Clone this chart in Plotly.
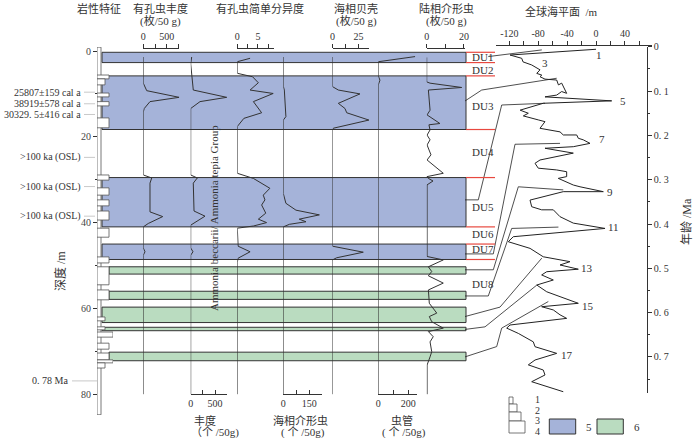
import plotly.graph_objects as go

W, H = 700, 438
FONT = 'Liberation Serif, Noto Sans CJK SC, serif'
INK = '#333333'
BLUE = '#a5b3d9'
GREEN = '#badcc0'
RED = '#e8483f'

# ---------------- data ----------------
# lithology: grain-size class (1-4) by depth interval (m)
lith_top = [-0.9, 5.6, 6.5, 9.8, 11.8, 15.6, 28.9, 31.9, 34.7, 37.3, 41.3, 48.0, 50.3, 55.7,
            62.0, 64.3, 65.5, 68.1, 70.4, 72.0, 72.7]
lith_bottom = [84.8, 6.5, 7.9, 10.7, 12.8, 17.9, 30.1, 33.6, 36.1, 39.4, 43.4, 49.4, 54.5, 58.0,
               62.9, 65.0, 66.7, 69.5, 72.0, 72.7, 73.9]
lith_class = [1, 3, 2, 3, 3, 3, 3, 3, 3, 3, 3, 3, 3, 3, 2, 2, 4, 3, 3, 4, 2]

# marine (5) / non-marine (6) intervals
band_top = [0.3, 5.8, 29.5, 45.0, 50.3, 56.0, 59.7, 64.4, 70.2]
band_bottom = [2.7, 18.3, 41.0, 48.6, 52.0, 57.9, 63.3, 65.2, 72.2]
band_kind = [5, 5, 5, 5, 6, 6, 6, 6, 6]

du_names = ['DU1', 'DU2', 'DU3', 'DU4', 'DU5', 'DU6', 'DU7', 'DU8']
du_label_depth = [1.3, 4.4, 12.75, 23.6, 36.3, 42.7, 46.2, 54.2]
du_boundary_depth = [0.3, 2.7, 5.8, 18.3, 29.5, 41.0, 45.0, 48.6]

# dating
date_labels = ['25807±159 cal a', '38919±578 cal a', '30329. 5±416 cal a',
               '>100 ka (OSL)', '>100 ka (OSL)', '>100 ka (OSL)', '0. 78 Ma']
date_depth = [9.6, 12.3, 14.8, 24.8, 31.6, 38.5, 76.9]

# foraminifera abundance (枚/50 g)
foram_depth = [1.4, 7.5, 9.25, 10.8, 11.8, 13.4, 14.2, 28.9, 29.6, 30.8, 37.5, 38.6, 40.2, 41.0,
               45.9, 46.8, 47.6, 80]
foram_abund = [0, 0, 73, 765, 143, 21, 0, 0, 180, 143, 143, 415, 107, 0, 0, 36, 0, 0]

# Ammonia abundance (个/50g)
ammonia_depth = [1.4, 3.0, 9.1, 10.8, 11.8, 13.4, 28.9, 29.6, 30.8, 37.3, 38.5, 40.6, 45.9, 46.8,
                 47.6, 80]
ammonia_abund = [20, 0, 53, 738, 191, 0, 0, 135, 53, 68, 293, 0, 0, 47, 0, 0]

# foraminifera simple diversity
div_depth = [1.7, 2.5, 5.2, 6.0, 7.4, 9.1, 9.9, 11.8, 14.4, 15.7, 17.6, 28.5, 29.7, 32.0, 33.6,
             34.7, 35.9, 37.8, 39.2, 40.0, 40.8, 41.3, 45.5, 46.8, 48.3, 49.2, 80]
div_value = [3.1, 0, 0, 3.7, 5.1, 3.1, 8.7, 3.9, 5.9, 1.6, 0, 0, 3.9, 7.9, 6.3,
             6.7, 5.9, 6.9, 5.1, 7.1, 3.9, 0, 0.2, 3.1, 0.2, 0, 0]

# marine ostracods (个/50g)
mostr_depth = [1.4, 8.2, 9.1, 15.3, 16.1, 33.2, 35.5, 37.1, 38.2, 39.2, 39.8, 40.4, 41.0, 80]
mostr_value = [0, 0, 6, 15, 0, 0, 15, 73, 208, 92, 131, 35, 0, 0]

# marine shells (枚/50 g)
shell_depth = [1.4, 8.3, 9.1, 10.0, 12.2, 13.4, 14.4, 16.1, 18.0, 18.4, 45.5, 46.9, 48.2, 48.7, 80]
shell_value = [0, 0, 5.6, 26.4, 5.6, 12, 13.7, 35, 0.8, 0, 0, 29.6, 4, 0, 0]

# worm tubes (个/50g)
tube_depth = [1.3, 2.5, 5.8, 6.8, 7.9, 80]
tube_value = [245, 0, 0, 11, 0, 0]

# terrestrial ostracods (枚/50 g)
tostr_depth = [1.5, 7.2, 7.5, 8.5, 9.1, 13.8, 14.9, 16.9, 17.2, 18.4, 19.6, 20.7, 21.9, 24.2,
               25.4, 28.5, 29.3, 29.7, 30.3, 31.2, 47.9, 48.7, 50.3, 51.4, 52.4, 54.1, 55.7,
               58.8, 61.1, 61.9, 63.1, 64.6, 65.4, 66.6, 67.8, 70.1, 71.3, 73.2, 80]
tostr_value = [0, 0, 1.8, 18.8, 0.9, 1.8, 0.2, 7.1, 1.2, 1.8, 0.2, 1.8, 0.2, 2.3,
               0.2, 8.9, 0, 0.9, 3.4, 0.2, 0.2, 8.9, 0.9, 2.7, 0.9, 8.9, 0.9,
               1.4, 5.4, 1.4, 2.7, 8.9, 0.9, 3.5, 1.8, 2.7, 1.8, 0.2, 0.2]

# global sea level (m) vs age (Ma)
sl_age = [0.0056, 0.0185, 0.026, 0.034, 0.041, 0.052, 0.060, 0.064, 0.0675, 0.073, 0.075, 0.086,
          0.082, 0.105, 0.101, 0.109, 0.113, 0.122, 0.1275, 0.143, 0.150, 0.156, 0.165, 0.169,
          0.184, 0.192, 0.199, 0.199, 0.2065, 0.210, 0.218, 0.2255, 0.229, 0.240, 0.2555, 0.263,
          0.274, 0.278, 0.282, 0.293, 0.297, 0.312, 0.316, 0.327, 0.327, 0.3345, 0.346, 0.361,
          0.368, 0.368, 0.3835, 0.398, 0.410, 0.4287, 0.440, 0.455, 0.4625, 0.474, 0.485, 0.4925,
          0.502, 0.5077, 0.515, 0.5264, 0.5377, 0.553, 0.564, 0.579, 0.5867, 0.594, 0.605, 0.613,
          0.628, 0.635, 0.647, 0.666, 0.677, 0.692, 0.707, 0.718, 0.7296, 0.7408, 0.756, 0.7786]
sl_m = [0, -119, -102.8, -101, -89, -77.5, -82, -75, -77.5, -70.6, -54.4, -52,
        -47.5, -40.6, -47.5, -54.4, -70.6, 21.7, -73, -105, -93.7, -100.6, -79.9, -70.6,
        -77.5, -49.8, -45.3, -26.7, -24.5, -17.6, -8.3, -31.4, -70.6, -31.4, -77.5, -84.4,
        -79.9, -54.4, -40.6, -40.6, -52.2, -31.4, -22.1, 10.1, -45.3, -63.7, -91.3, -89,
        -75.2, -59.1, -49.8, -31.4, 12.5, -114.5, -121.4, -91.3, -84.4, -73, -36, -49.8,
        -24.5, -68.2, -75.2, -59.1, -82, -68.2, -49.8, -24.5, -75.2, -59.1, -49.8, -40.6,
        -119, -123.6, -107.5, -86.8, -84.4, -54.4, -84.4, -93.7, -73, -70.6, -89, -45.3]

mis_labels = ['1', '3', '5', '7', '9', '11', '13', '15', '17']
mis_age = [0.0185, 0.037, 0.122, 0.208, 0.328, 0.407, 0.4986, 0.585, 0.696]
mis_sl = [4.6, -70.6, 37, 7.9, 19.4, 24, -12.9, -10.7, -39.7]

# correlation of depositional units with sea-level curve
corr_start_depth = [1.3, 11.65, 34.7, 47.3, 51.0, 57.1, 61.9, 64.9, 71.3]
corr_end_age = [0.007, 0.071, 0.1275, 0.218, 0.323, 0.407, 0.477, 0.538, 0.575]
corr_end_sl = [-75, -54.4, -70.6, -49.8, -45.3, -52, -75, -82, -66]

# ---------------- geometry (pixels) ----------------
D0_PX, PX_PER_M = 51.0, 4.29          # depth scale
DEPTH_TOP_PX, DEPTH_BOT_PX = 47.0, 415.0
A0_PX, PX_PER_MA = 46.8, 443.0         # age scale
AGE_BOT_PX = 392.7
SL0_PX, PX_PER_SLM = 596.0, 0.7225     # sea-level scale
SL_LEFT_PX, SL_RIGHT_PX = 496.0, 651.7
AGE_AXIS_PX = 646.7


def fx(px):
    return px / W


def fy(py):
    return 1 - py / H


def depth_px(d):
    return D0_PX + d * PX_PER_M


def age_px(a):
    return A0_PX + a * PX_PER_MA


def sl_px(s):
    return SL0_PX + s * PX_PER_SLM


# connector layout: start x, knee in depth space, knee in age space
corr_start_x = [488.3, 465, 465, 465, 465, 465, 465, 465, 465]
corr_knee_d = [None, (481.7, 9.1), (478.3, 34.7), (493.3, 47.3), (493.3, 51.0), (488.3, 57.1),
               (500, 59.7), (485, 64.3), (496.7, 68.9)]
corr_knee_a = [None, None, (501.7, 0.1314), (515, 0.22), (518.3, 0.316), (511.7, 0.41),
               None, None, (501.7, 0.635)]

band_x0 = [102, 102, 102, 102, 109, 109, 102, 102, 109]
BAND_X1 = 466

fig = go.Figure()

# lithology column
fig.add_trace(go.Bar(
    x=lith_class, y=[(t + b) / 2 for t, b in zip(lith_top, lith_bottom)],
    width=[b - t for t, b in zip(lith_top, lith_bottom)], base=0, orientation='h',
    xaxis='x', yaxis='y', marker=dict(color='white', line=dict(color='#555555', width=0.8)),
    showlegend=False, hoverinfo='skip'))

# curve panels: (axis, depth, values, domain px, range max, tickvals, ticktext, top?)
panels = [
    ('x2', foram_depth, foram_abund, (143.3, 179.3), 769, [0, 250, 500, 750], ['0', '', '500', ''], True),
    ('x3', ammonia_depth, ammonia_abund, (190.7, 227.3), 750, [0, 250, 500, 750], ['0', '', '500', ''], False),
    ('x4', div_depth, div_value, (237.3, 274.0), 8.9, [0, 2.5, 5, 7.5], ['0', '', '5', ''], True),
    ('x5', mostr_depth, mostr_value, (283.3, 321.7), 221.5, [0, 75, 150], ['0', '', '150'], False),
    ('x6', shell_depth, shell_value, (332.5, 369.3), 35.4, [0, 12.5, 25], ['0', '', '25'], True),
    ('x7', tube_depth, tube_value, (378.3, 416.7), 256, [0, 100, 200], ['0', '', '200'], False),
    ('x8', tostr_depth, tostr_value, (426.7, 464.5), 20.3, [0, 10, 20], ['0', '', '20'], True),
]

axes = {}
for ax, dep, val, dom, rmax, tv, tt, top in panels:
    fig.add_trace(go.Scatter(x=val, y=dep, mode='lines', xaxis=ax, yaxis='y',
                             line=dict(color=INK, width=1), showlegend=False, hoverinfo='skip'))
    axes['xaxis' + ax[1:]] = dict(
        domain=[fx(dom[0]), fx(dom[1])], range=[0, rmax], anchor='free', automargin=False,
        position=fy(47.7) if top else fy(394), side='top' if top else 'bottom',
        showline=True, linecolor=INK, linewidth=1, ticks='outside' if top else 'inside',
        ticklen=4, tickcolor=INK, tickvals=tv, ticktext=tt, showgrid=False, zeroline=False,
        tickfont=dict(family=FONT, size=10, color=INK))

# sea-level curve
fig.add_trace(go.Scatter(x=sl_m, y=sl_age, mode='lines', xaxis='x9', yaxis='y2',
                         line=dict(color='#222222', width=1), showlegend=False, hoverinfo='skip'))

# connectors drawn in a pixel overlay
cx, cy = [], []
for i in range(len(corr_start_depth)):
    cx.append(corr_start_x[i])
    cy.append(depth_px(corr_start_depth[i]))
    if corr_knee_d[i]:
        cx.append(corr_knee_d[i][0])
        cy.append(depth_px(corr_knee_d[i][1]))
    if corr_knee_a[i]:
        cx.append(corr_knee_a[i][0])
        cy.append(age_px(corr_knee_a[i][1]))
    cx.append(sl_px(corr_end_sl[i]))
    cy.append(age_px(corr_end_age[i]))
    cx.append(None)
    cy.append(None)
fig.add_trace(go.Scatter(x=cx, y=cy, mode='lines', xaxis='x10', yaxis='y3',
                         line=dict(color='#222222', width=0.8), showlegend=False, hoverinfo='skip'))

shapes = []
for t, b, k, x0 in zip(band_top, band_bottom, band_kind, band_x0):
    shapes.append(dict(type='rect', xref='paper', yref='y', x0=fx(x0), x1=fx(BAND_X1), y0=t, y1=b,
                       fillcolor=BLUE if k == 5 else GREEN, line=dict(color=INK, width=1), layer='below'))
for d in du_boundary_depth:
    shapes.append(dict(type='line', xref='paper', yref='y', x0=fx(466), x1=fx(495), y0=d, y1=d,
                       line=dict(color=RED, width=1.2)))
for lab, d in zip(date_labels, date_depth):
    x1 = 97 if 'Ma' in lab else 95
    x0 = 72 if 'Ma' in lab else 84
    shapes.append(dict(type='line', xref='paper', yref='y', x0=fx(x0), x1=fx(x1), y0=d, y1=d,
                       line=dict(color='#bbbbbb', width=0.8)))

# legend symbols
steps = [(397, 404, 4), (404, 412, 8), (412, 421, 12), (421, 433, 16)]
for y0, y1, w in steps:
    shapes.append(dict(type='rect', xref='paper', yref='paper', x0=fx(509), x1=fx(509 + w),
                       y0=fy(y1), y1=fy(y0), line=dict(color='#555555', width=0.8), fillcolor='white'))
shapes.append(dict(type='rect', xref='paper', yref='paper', x0=fx(549.3), x1=fx(575.7), y0=fy(434), y1=fy(419),
                   fillcolor=BLUE, line=dict(color=INK, width=1)))
shapes.append(dict(type='rect', xref='paper', yref='paper', x0=fx(597), x1=fx(623.3), y0=fy(434), y1=fy(419),
                   fillcolor=GREEN, line=dict(color=INK, width=1)))

annotations = []


def ann(text, x, y, size=11, xanchor='center', yanchor='middle', angle=0, yref='paper', xref='paper'):
    annotations.append(dict(text=text, x=x, y=y, xref=xref, yref=yref, showarrow=False,
                            xanchor=xanchor, yanchor=yanchor, textangle=angle,
                            font=dict(family=FONT, size=size, color=INK)))


ann('岩性特征', fx(99), fy(8))
ann('有孔虫丰度', fx(160), fy(8))
ann('(枚/50 g)', fx(160), fy(21))
ann('有孔虫简单分异度', fx(260), fy(8))
ann('海相贝壳', fx(356), fy(8))
ann('(枚/50 g)', fx(356), fy(21))
ann('陆相介形虫', fx(446), fy(8))
ann('(枚/50 g)', fx(446), fy(21))
ann('全球海平面  /m', fx(561), fy(11))
ann('丰度', fx(205), fy(420))
ann('（个 /50g)', fx(215), fy(432))
ann('海相介形虫', fx(300), fy(420))
ann('( 个 /50g)', fx(303), fy(432))
ann('虫管', fx(402), fy(420))
ann('( 个 /50g)', fx(404), fy(432))
ann('深度 /m', fx(60), fy(271), size=12, angle=-90)
ann('年龄 /Ma', fx(687), fy(222), size=12, angle=-90)
ann('Ammonia beccarii/ Ammonia tepia Group', fx(214), fy(218), angle=-90)
for lab, d in zip(date_labels, date_depth):
    ann(lab, fx(70 if 'Ma' in lab else 83), d, size=10, xanchor='right', yref='y')
for name, d in zip(du_names, du_label_depth):
    ann(name, fx(470), d, xanchor='left', yref='y')
for lab, a, s in zip(mis_labels, mis_age, mis_sl):
    ann(lab, s, a, size=11, xref='x9', yref='y2')
for i, yy in enumerate([399, 410, 420, 431]):
    ann(str(i + 1), fx(533), fy(yy), size=10, xanchor='left')
ann('5', fx(584), fy(427), size=11, xanchor='left')
ann('6', fx(631.7), fy(427), size=11, xanchor='left')

fig.update_layout(
    width=W, height=H, margin=dict(l=0, r=0, t=0, b=0, autoexpand=False),
    paper_bgcolor='white', plot_bgcolor='rgba(0,0,0,0)', showlegend=False,
    xaxis=dict(domain=[fx(97), fx(113)], range=[0, 4], anchor='y', visible=False, automargin=False),
    yaxis=dict(domain=[fy(DEPTH_BOT_PX), fy(DEPTH_TOP_PX)],
               range=[(DEPTH_BOT_PX - D0_PX) / PX_PER_M, (DEPTH_TOP_PX - D0_PX) / PX_PER_M],
               anchor='free', position=fx(97), side='left', ticks='outside', ticklen=4,
               tickcolor=INK, tickvals=[0, 20, 40, 60, 80], showgrid=False, zeroline=False,
               showline=False, automargin=False,
               minor=dict(dtick=10, tick0=0, ticks='outside', ticklen=2, tickcolor=INK),
               tickfont=dict(family=FONT, size=10, color='#444444')),
    xaxis9=dict(domain=[fx(SL_LEFT_PX), fx(SL_RIGHT_PX)],
                range=[(SL_LEFT_PX - SL0_PX) / PX_PER_SLM, (SL_RIGHT_PX - SL0_PX) / PX_PER_SLM],
                anchor='free', position=fy(45), side='top', showline=True, linecolor=INK,
                ticks='outside', ticklen=4, tickcolor=INK, automargin=False,
                tickvals=[-120, -100, -80, -60, -40, -20, 0, 20, 40, 60],
                ticktext=['-120', '', '-80', '', '-40', '', '0', '', '40', ''],
                showgrid=False, zeroline=False, tickfont=dict(family=FONT, size=10, color=INK)),
    yaxis2=dict(domain=[fy(AGE_BOT_PX), fy(A0_PX)],
                range=[(AGE_BOT_PX - A0_PX) / PX_PER_MA, 0], anchor='free', position=fx(AGE_AXIS_PX),
                side='right', showline=True, linecolor=INK, ticks='outside', ticklen=4, tickcolor=INK,
                tickvals=[0, 0.1, 0.2, 0.3, 0.4, 0.5, 0.6, 0.7], automargin=False,
                ticktext=['0', '0. 1', '0. 2', '0. 3', '0. 4', '0. 5', '0. 6', '0. 7'],
                minor=dict(dtick=0.05, tick0=0, ticks='outside', ticklen=2, tickcolor=INK),
                showgrid=False, zeroline=False, tickfont=dict(family=FONT, size=10, color=INK)),
    xaxis10=dict(domain=[0, 1], range=[0, W], anchor='y3', visible=False, automargin=False),
    yaxis3=dict(domain=[0, 1], range=[H, 0], anchor='x10', visible=False, automargin=False),
    shapes=shapes, annotations=annotations,
    **axes)

fig.write_html('out.html', config={'displayModeBar': False},
               post_script="document.body.style.margin='0';")
